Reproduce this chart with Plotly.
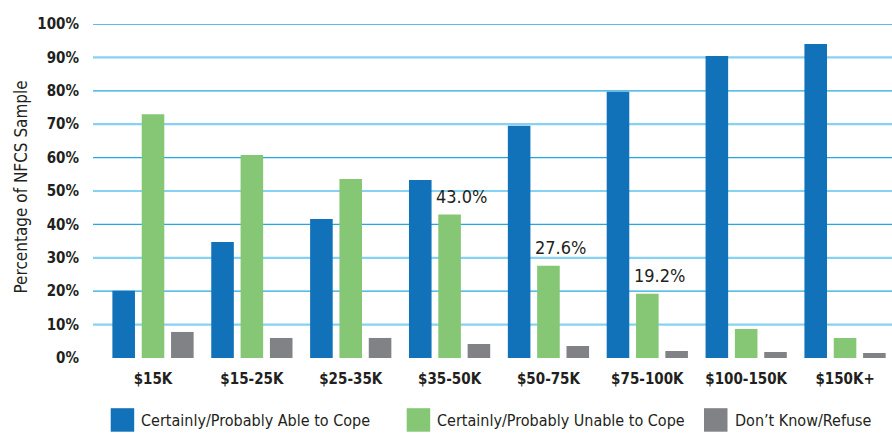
import plotly.graph_objects as go

categories = ["$15K", "$15-25K", "$25-35K", "$35-50K", "$50-75K", "$75-100K", "$100-150K", "$150K+"]
able = [20.1, 34.7, 41.6, 53.3, 69.5, 79.7, 90.4, 94.0]
unable = [73.0, 60.8, 53.6, 43.0, 27.6, 19.2, 8.7, 6.0]
dont_know = [7.8, 6.0, 6.0, 4.2, 3.6, 2.1, 1.8, 1.5]
series_names = ["Certainly/Probably Able to Cope", "Certainly/Probably Unable to Cope", "Don\u2019t Know/Refuse"]
series_colors = ["#1172ba", "#85c775", "#808285"]
labelled = {"$35-50K": "43.0%", "$50-75K": "27.6%", "$75-100K": "19.2%"}
y_ticks = [0, 10, 20, 30, 40, 50, 60, 70, 80, 90, 100]

FONT = "DejaVu Sans Condensed, Liberation Sans Narrow, sans-serif"
TXT = "#231f20"

W, H = 892, 434
ML, MR, MT, MB = 93, 0, 24, 76
PW, PH = W - ML - MR, H - MT - MB

def px(x):
    return (x - ML) / PW

def py(y):
    return (H - MB - y) / PH

fig = go.Figure()
for name, vals, col in zip(series_names, [able, unable, dont_know], series_colors):
    fig.add_trace(go.Bar(x=categories, y=vals, name=name, marker=dict(color=col, line=dict(width=0)),
                         showlegend=False, hoverinfo="x+y"))

shapes = []
# alternating gridlines: odd tens light, even tens dark
for v in y_ticks:
    if v == 0:
        continue
    dark = (v // 10) % 2 == 0
    shapes.append(dict(type="line", xref="paper", x0=0, x1=1, yref="y", y0=v, y1=v,
                       line=dict(color="#23a9e1" if dark else "#86d2f2", width=1.3 if dark else 2.2),
                       layer="between"))
# baseline
shapes.append(dict(type="line", xref="paper", x0=0, x1=1, yref="y", y0=-0.45, y1=-0.45,
                   line=dict(color=TXT, width=3), layer="above"))

annotations = []
for cat, txt in labelled.items():
    i = categories.index(cat)
    annotations.append(dict(x=cat, y=unable[i], text=txt, showarrow=False, xshift=12, yshift=18,
                            yanchor="middle", xanchor="center",
                            font=dict(family=FONT, size=18, color=TXT)))

# y-axis title
annotations.append(dict(xref="paper", yref="paper", x=px(20), y=py(187.5), text="Percentage of NFCS Sample",
                        textangle=-90, showarrow=False, xanchor="center", yanchor="middle",
                        font=dict(family=FONT, size=17, color=TXT)))

# manual legend
legend_sq_x = [110.7, 406.7, 704]
sq = 23.5
for name, col, x0 in zip(series_names, series_colors, legend_sq_x):
    shapes.append(dict(type="rect", xref="paper", yref="paper", x0=px(x0), x1=px(x0 + sq),
                       y0=py(431.7), y1=py(408.2), fillcolor=col, line=dict(width=0)))
    annotations.append(dict(xref="paper", yref="paper", x=px(x0 + sq + 5), y=py(420.5), text=name,
                            showarrow=False, xanchor="left", yanchor="middle",
                            font=dict(family=FONT, size=16, color=TXT)))

fig.update_layout(
    width=W, height=H,
    margin=dict(l=ML, r=MR, t=MT, b=MB, pad=0),
    paper_bgcolor="white", plot_bgcolor="white",
    barmode="group", bargap=0.11, bargroupgap=0.23,
    shapes=shapes, annotations=annotations,
    showlegend=False,
    xaxis=dict(range=[-0.607, 7.475], showgrid=False, zeroline=False, showline=False, ticks="",
               tickfont=dict(family=FONT, size=15, color=TXT, weight="bold"), ticklabelstandoff=10,
               fixedrange=True),
    yaxis=dict(range=[0, 100], tickvals=y_ticks, ticktext=[f"{v}%" for v in y_ticks],
               showgrid=False, zeroline=False, showline=False, ticks="",
               tickfont=dict(family=FONT, size=15, color=TXT, weight="bold"), ticklabelstandoff=13,
               fixedrange=True),
)

fig.write_html("out.html")
